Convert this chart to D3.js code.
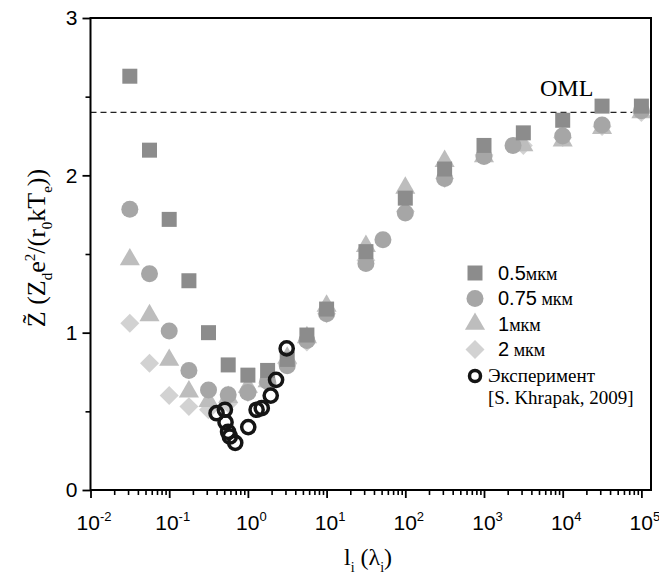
<!DOCTYPE html>
<html>
<head>
<meta charset="utf-8">
<script src="https://cdn.jsdelivr.net/npm/d3@7/dist/d3.min.js"></script>
<style>
  body { margin: 0; background: #fff; }
  svg { display: block; }
</style>
</head>
<body>
<svg id="chart" width="659" height="575"></svg>
<script>

// l_i values (quarter decades up to 10, then half decades)
const lambda = [0.0316, 0.0562, 0.1, 0.178, 0.316, 0.562, 1, 1.78, 3.16, 5.62, 10,
                31.6, 100, 316, 1000, 3162, 10000, 31623, 100000]
const z05 = [2.63, 2.16, 1.72, 1.33, 1.0, 0.795, 0.73, 0.76, 0.83, 0.985, 1.15,
             1.515, 1.855, 2.04, 2.19, 2.27, 2.35, 2.44, 2.44]
const lambda075 = [0.0316, 0.0562, 0.1, 0.178, 0.316, 0.562, 1, 1.78, 3.16, 5.62, 10,
                   31.6, 52, 100, 316, 1000, 2340, 10000, 31623, 100000]
const z075 = [1.785, 1.375, 1.01, 0.76, 0.635, 0.605, 0.62, 0.69, 0.79, 0.95, 1.12,
              1.44, 1.59, 1.76, 1.98, 2.12, 2.19, 2.25, 2.32, 2.41]
const z1 = [1.465, 1.11, 0.826, 0.625, 0.565, 0.59, 0.655, 0.69, 0.84, 0.97, 1.17,
            1.55, 1.92, 2.09, 2.12, 2.19, 2.22, 2.30, 2.40]
const z2 = [1.06, 0.805, 0.60, 0.53, 0.51, 0.55, 0.62, 0.68, 0.80, 0.94, 1.12,
            1.46, 1.77, 1.98, 2.13, 2.19, 2.24, 2.31, 2.40]
const expLambda = [0.40, 0.51, 0.52, 0.56, 0.59, 0.69, 1.01, 1.29, 1.5, 1.95, 2.28, 3.11]
const expZ = [0.488, 0.51, 0.43, 0.37, 0.34, 0.30, 0.40, 0.51, 0.52, 0.60, 0.70, 0.90]
const oml = 2.4

const legendSizes = ["0.5", "0.75", "1", "2"]
const legendGap = ["", " ", "", " "]

const sans = "'Liberation Sans', Arial, sans-serif"
const serif = "'Liberation Serif', 'Times New Roman', serif"

let svg = d3.select("#chart")

let x = d3.scaleLog().domain([1e-2, Math.pow(10, 5.122)]).range([90.5, 651])
let y = d3.scaleLinear().domain([0, 3]).range([490, 18])

// markers
let shapes = {
  square: d3.symbol().type(d3.symbolSquare).size(225)(),
  circle: d3.symbol().type(d3.symbolCircle).size(227)(),
  triangle: d3.symbol().type(d3.symbolTriangle).size(175)(),
  diamond: d3.symbol().type(d3.symbolSquare).size(180)()
}

let series = [
  {xs: lambda, ys: z2, shape: "diamond", color: "#d2d2d2", rot: 45},
  {xs: lambda, ys: z1, shape: "triangle", color: "#bdbdbd", rot: 0},
  {xs: lambda075, ys: z075, shape: "circle", color: "#a6a6a6", rot: 0},
  {xs: lambda, ys: z05, shape: "square", color: "#8c8c8c", rot: 0}
]

// OML line
svg.append("line")
   .attr("x1", x.range()[0]).attr("x2", x.range()[1])
   .attr("y1", y(oml)).attr("y2", y(oml))
   .attr("stroke", "#222").attr("stroke-width", 1.4)
   .attr("stroke-dasharray", "6,4")

svg.append("text")
   .attr("x", 540).attr("y", 96)
   .style("font-family", serif).style("font-size", "24px")
   .text("OML")

series.forEach(function(s) {

  svg.append("g").selectAll("path")
     .data(s.xs.map((v, i) => [v, s.ys[i]]))
     .enter()
     .append("path")
     .attr("d", shapes[s.shape])
     .attr("transform", d => "translate(" + x(d[0]) + "," + y(d[1]) + ") rotate(" + s.rot + ")")
     .attr("fill", s.color)

})

svg.append("g").selectAll("circle")
   .data(expLambda.map((v, i) => [v, expZ[i]]))
   .enter()
   .append("circle")
   .attr("cx", d => x(d[0]))
   .attr("cy", d => y(d[1]))
   .attr("r", 6.6)
   .attr("fill", "none")
   .attr("stroke", "#151515")
   .attr("stroke-width", 3.5)

// axes
let majorX = d3.range(-2, 6).map(k => Math.pow(10, k))
let minorX = []
d3.range(-2, 6).forEach(function(k) {
  for (let m = 2; m < 10; m++) {
    let v = m * Math.pow(10, k)
    if (v < x.domain()[1]) minorX.push(v)
  }
})

svg.append("g")
   .attr("transform", "translate(0," + y(0) + ")")
   .call(d3.axisBottom(x).tickValues(minorX).tickSize(5).tickFormat(""))
   .call(g => g.select(".domain").remove())
   .call(g => g.selectAll("line").attr("stroke-width", 1.6))

let xAxis = svg.append("g")
   .attr("transform", "translate(0," + y(0) + ")")
   .call(d3.axisBottom(x).tickValues(majorX).tickSize(8).tickFormat(""))
   .call(g => g.select(".domain").remove())
   .call(g => g.selectAll("line").attr("stroke-width", 1.8))

xAxis.selectAll(".tick").each(function(d) {
  let t = d3.select(this).append("text")
     .attr("y", 40)
     .attr("x", 3)
     .attr("fill", "#000")
     .attr("text-anchor", "middle")
     .style("font-family", sans).style("font-size", "21px")
  t.append("tspan").text("10")
  t.append("tspan").attr("dy", -9).style("font-size", "13px").text(Math.round(Math.log10(d)))
})

svg.append("g")
   .attr("transform", "translate(" + x.range()[0] + ",0)")
   .call(d3.axisLeft(y).tickValues([0.5, 1.5, 2.5]).tickSize(5).tickFormat(""))
   .call(g => g.select(".domain").remove())
   .call(g => g.selectAll("line").attr("stroke-width", 1.6))

svg.append("g")
   .attr("transform", "translate(" + x.range()[0] + ",0)")
   .call(d3.axisLeft(y).tickValues([0, 1, 2, 3]).tickSize(8).tickPadding(5).tickFormat(d3.format("d")))
   .call(g => g.select(".domain").remove())
   .call(g => g.selectAll("line").attr("stroke-width", 1.8))
   .call(g => g.selectAll("text").style("font-family", sans).style("font-size", "21px").attr("fill", "#000"))

// frame
svg.append("rect")
   .attr("x", x.range()[0]).attr("y", y(3))
   .attr("width", x.range()[1] - x.range()[0])
   .attr("height", y(0) - y(3))
   .attr("fill", "none").attr("stroke", "#000").attr("stroke-width", 2)

// axis titles
let xt = svg.append("text")
   .attr("x", 368).attr("y", 565)
   .attr("text-anchor", "middle")
   .style("font-family", serif).style("font-size", "24px")
xt.append("tspan").text("l")
xt.append("tspan").attr("dy", 7).style("font-size", "14px").text("i")
xt.append("tspan").attr("dy", -7).text(" (λ")
xt.append("tspan").attr("dy", 7).style("font-size", "14px").text("i")
xt.append("tspan").attr("dy", -7).text(")")

let yt = svg.append("text")
   .attr("transform", "translate(45,248) rotate(-90)")
   .attr("text-anchor", "middle")
   .style("font-family", serif).style("font-size", "26px")
yt.append("tspan").text("Z\u0303 (Z")
yt.append("tspan").attr("dy", 7).style("font-size", "15px").text("d")
yt.append("tspan").attr("dy", -7).text("e")
yt.append("tspan").attr("dy", -10).style("font-size", "15px").text("2")
yt.append("tspan").attr("dy", 10).text("/(r")
yt.append("tspan").attr("dy", 7).style("font-size", "15px").text("0")
yt.append("tspan").attr("dy", -7).text("kT")
yt.append("tspan").attr("dy", 7).style("font-size", "15px").text("e")
yt.append("tspan").attr("dy", -7).text("))")

// legend
let legendOrder = [series[3], series[2], series[1], series[0]]
let legend = svg.append("g").attr("transform", "translate(475,273)")

legendOrder.forEach(function(s, i) {

  let row = legend.append("g").attr("transform", "translate(0," + (i * 25.5) + ")")
  row.append("path")
     .attr("d", shapes[s.shape])
     .attr("transform", "rotate(" + s.rot + ")")
     .attr("fill", s.color)
  let t = row.append("text").attr("x", 23).attr("y", 6.5)
  t.append("tspan").style("font-family", sans).style("font-size", "20px").text(legendSizes[i])
  t.append("tspan").style("font-family", serif).style("font-size", "18px").text(legendGap[i] + "мкм")

})

let expRow = legend.append("g").attr("transform", "translate(0," + (4 * 25.5 + 1) + ")")
expRow.append("circle").attr("r", 5.5).attr("fill", "none").attr("stroke", "#151515").attr("stroke-width", 3.5)
expRow.append("text").attr("x", 13).attr("y", 5.5)
      .style("font-family", serif).style("font-size", "19px").text("Эксперимент")
expRow.append("text").attr("x", 13).attr("y", 28)
      .style("font-family", serif).style("font-size", "19px").text("[S. Khrapak, 2009]")

</script>
</body>
</html>
